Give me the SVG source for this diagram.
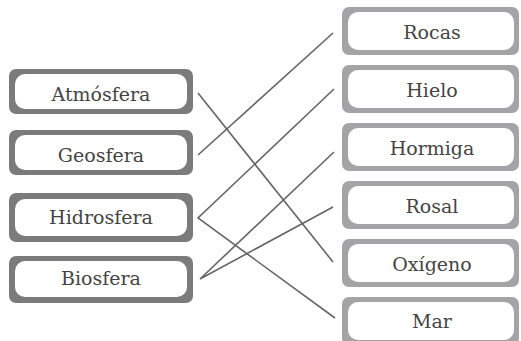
<svg xmlns="http://www.w3.org/2000/svg" width="521" height="341" viewBox="0 0 521 341">
<style>
.ol{fill:#7b7b7c}
.or{fill:#a4a4a6}
.in{fill:#fff}
.t{font-family:"DejaVu Serif","Liberation Serif",serif;font-size:19px;fill:#444;text-anchor:middle}
.c{stroke:#666;stroke-width:1.6;fill:none}
</style>
<rect width="521" height="341" fill="#fff"/>
<g id="atmosfera"><rect class="ol" x="9" y="69" width="184" height="45" rx="7"/><rect class="in" x="15" y="74" width="172" height="35" rx="10"/><text class="t" x="101" y="101">Atmósfera</text></g>
<g id="geosfera"><rect class="ol" x="9" y="130" width="184" height="45" rx="7"/><rect class="in" x="15" y="135" width="172" height="35" rx="10"/><text class="t" x="101" y="162">Geosfera</text></g>
<g id="hidrosfera"><rect class="ol" x="9" y="193" width="184" height="49" rx="7"/><rect class="in" x="15" y="199" width="172" height="37" rx="10"/><text class="t" x="101" y="224">Hidrosfera</text></g>
<g id="biosfera"><rect class="ol" x="9" y="256" width="184" height="47" rx="7"/><rect class="in" x="15" y="261" width="172" height="36" rx="10"/><text class="t" x="101" y="285">Biosfera</text></g>
<g id="rocas"><rect class="or" x="342" y="7" width="177" height="48" rx="7"/><rect class="in" x="348" y="12" width="166" height="38" rx="10"/><text class="t" x="432" y="39">Rocas</text></g>
<g id="hielo"><rect class="or" x="342" y="65" width="177" height="48" rx="7"/><rect class="in" x="348" y="70" width="166" height="38" rx="10"/><text class="t" x="432" y="97">Hielo</text></g>
<g id="hormiga"><rect class="or" x="342" y="123" width="177" height="48" rx="7"/><rect class="in" x="348" y="128" width="166" height="38" rx="10"/><text class="t" x="432" y="155">Hormiga</text></g>
<g id="rosal"><rect class="or" x="342" y="181" width="177" height="48" rx="7"/><rect class="in" x="348" y="186" width="166" height="38" rx="10"/><text class="t" x="432" y="213">Rosal</text></g>
<g id="oxigeno"><rect class="or" x="342" y="239" width="177" height="48" rx="7"/><rect class="in" x="348" y="244" width="166" height="38" rx="10"/><text class="t" x="432" y="271">Oxígeno</text></g>
<g id="mar"><rect class="or" x="342" y="297" width="177" height="48" rx="7"/><rect class="in" x="348" y="302" width="166" height="38" rx="10"/><text class="t" x="432" y="328">Mar</text></g>
<g id="connectors">
<line class="c" x1="198" y1="93" x2="333" y2="262"/>
<line class="c" x1="198" y1="155" x2="333" y2="33"/>
<polyline class="c" points="334,89 198,218 335,318"/>
<polyline class="c" points="334,152 200,279 333,207"/>
</g>
</svg>
